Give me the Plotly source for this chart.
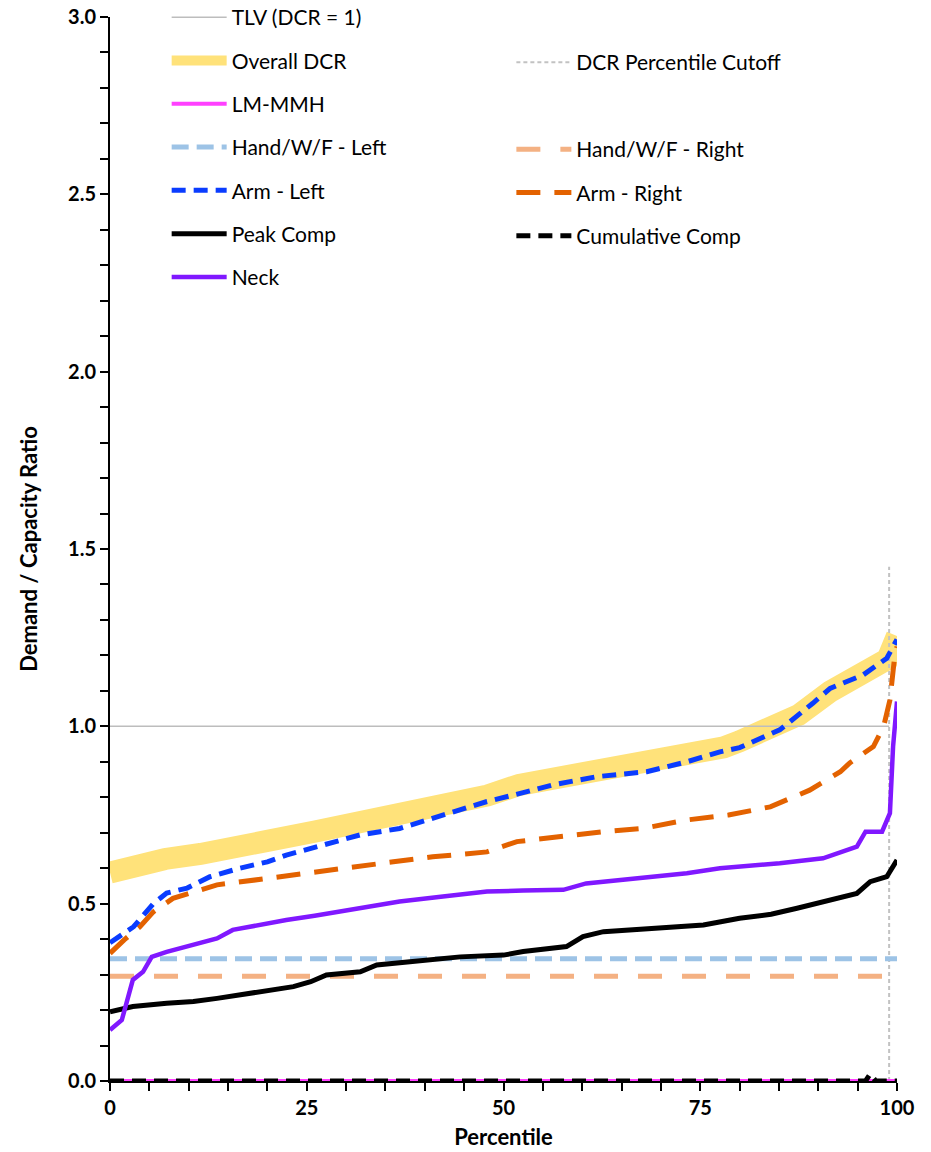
import plotly.graph_objects as go

# percentile curves
overall_x = [0, 3, 7, 11.5, 15.5, 20, 26, 33, 40, 48, 52, 59, 66, 73, 78, 80, 85, 87.5, 91.5, 95, 97.8, 98.8, 100]
overall_y = [0.588, 0.607, 0.626, 0.64, 0.651, 0.677, 0.703, 0.731, 0.762, 0.805, 0.835, 0.861, 0.889, 0.913,
             0.941, 0.958, 1.004, 1.032, 1.098, 1.145, 1.178, 1.19, 1.255]

arm_left_x = [0, 3, 5.5, 7.2, 9.8, 12.7, 16.5, 20, 22.4, 26.3, 31.8, 36.8, 42.3, 47.9, 52.5, 56.3, 61.8, 68.2,
              73.3, 77.5, 80, 85.1, 89.3, 91.5, 95.7, 98.7, 100]
arm_left_y = [0.39, 0.435, 0.50, 0.53, 0.544, 0.576, 0.60, 0.618, 0.637, 0.66, 0.694, 0.712, 0.75, 0.788, 0.813,
              0.835, 0.858, 0.872, 0.90, 0.928, 0.94, 0.99, 1.065, 1.107, 1.145, 1.192, 1.245]

arm_right_x = [0, 1.8, 3.8, 5.5, 8, 10.2, 13.6, 19.9, 26, 30.5, 36, 41, 47.9, 51.7, 57.2, 62.7, 67.7, 73.3, 78.6,
               83.9, 88.9, 92.8, 94, 97, 98.3, 99.1, 99.7, 100]
arm_right_y = [0.36, 0.398, 0.435, 0.477, 0.515, 0.53, 0.553, 0.571, 0.59, 0.604, 0.618, 0.632, 0.646, 0.675, 0.689,
               0.703, 0.712, 0.736, 0.75, 0.773, 0.82, 0.872, 0.897, 0.943, 0.999, 1.074, 1.196, 1.225]

neck_x = [0, 1.5, 2.1, 2.9, 4.2, 5.3, 7.2, 11.4, 13.6, 15.6, 19.9, 22.4, 26, 31.8, 36.8, 42.3, 47.9, 52.5, 57.6,
          60.5, 66.9, 73.3, 77.5, 80, 85.1, 90.6, 94.9, 96, 98.1, 99.1, 99.5, 100]
neck_y = [0.144, 0.172, 0.22, 0.285, 0.308, 0.35, 0.364, 0.388, 0.402, 0.426, 0.445, 0.454, 0.466, 0.487, 0.506,
          0.52, 0.534, 0.537, 0.539, 0.557, 0.571, 0.586, 0.60, 0.604, 0.614, 0.628, 0.661, 0.703, 0.703, 0.755,
          0.943, 1.07]

peak_x = [0, 2.9, 7.2, 10.6, 13.6, 16.5, 19.9, 23.3, 25.5, 27.5, 31.8, 33.9, 38.1, 44.5, 50, 52.5, 58, 60.1, 62.7,
          69, 75.4, 80, 84, 87.3, 91.5, 94.9, 96.6, 98.7, 100]
peak_y = [0.195, 0.21, 0.219, 0.224, 0.233, 0.242, 0.252, 0.266, 0.28, 0.299, 0.308, 0.327, 0.336, 0.35, 0.355,
          0.365, 0.379, 0.407, 0.421, 0.43, 0.44, 0.459, 0.47, 0.487, 0.51, 0.529, 0.562, 0.576, 0.623]

cumul_x = [0, 96, 96.6, 97.3, 100]
cumul_y = [0, 0, 0.02, 0, 0]

lm_mmh_x = [0, 100]
lm_mmh_y = [0, 0]

hand_x = [0, 100]
hand_left_y = [0.345, 0.345]
hand_right_y = [0.295, 0.295]

tlv_x = [0, 99]
tlv_y = [1, 1]

cutoff_x = [99, 99]
cutoff_y = [0, 1.45]

FONT = "Lato"

fig = go.Figure()

def add_line(x, y, name, color, width, dash="solid", legend="legend", rank=1):
    fig.add_trace(go.Scatter(x=x, y=y, name=name, mode="lines",
                             line=dict(color=color, width=width, dash=dash),
                             legend=legend, legendgroup=name, legendrank=rank,
                             hoverinfo="skip"))

# draw order (bottom to top)
add_line(overall_x, overall_y, "Overall DCR", "#FFE27A", 22, rank=2)
add_line(tlv_x, tlv_y, "TLV (DCR = 1)", "#BDBDBD", 1.5, rank=1)
add_line(cutoff_x, cutoff_y, "DCR Percentile Cutoff", "#C2C2C2", 2, "4px,3px", legend="legend2")
add_line(hand_x, hand_left_y, "Hand/W/F - Left", "#9DC3E6", 5, "17px,8px", rank=4)
add_line(hand_x, hand_right_y, "Hand/W/F - Right", "#F4B183", 5, "24px,20px", legend="legend3", rank=1)
add_line(peak_x, peak_y, "Peak Comp", "black", 5, rank=6)
add_line(neck_x, neck_y, "Neck", "#8018FF", 4.5, rank=7)
add_line(arm_right_x, arm_right_y, "Arm - Right", "#E36200", 5, "24px,14px", legend="legend3", rank=2)
add_line(arm_left_x, arm_left_y, "Arm - Left", "#0A3CFF", 5, "14px,8px", rank=5)
add_line(lm_mmh_x, lm_mmh_y, "LM-MMH", "#FF40FF", 4, rank=3)
add_line(cumul_x, cumul_y, "Cumulative Comp", "black", 5, "14px,8px", legend="legend3", rank=3)

legend_font = dict(family=FONT, size=21, color="black")
legend_common = dict(font=legend_font, bgcolor="rgba(0,0,0,0)", borderwidth=0,
                     tracegroupgap=13, itemwidth=55, xanchor="left", yanchor="top",
                     itemclick=False, itemdoubleclick=False)

fig.update_layout(
    width=931, height=1152,
    margin=dict(l=110, r=34, t=17, b=71, autoexpand=False),
    plot_bgcolor="white", paper_bgcolor="white",
    font=dict(family=FONT, color="black"),
    legend=dict(x=0.072, y=1.0188, **legend_common),
    legend2=dict(x=0.51, y=0.9765, **legend_common),
    legend3=dict(x=0.51, y=0.8947, **legend_common),
)

fig.update_xaxes(
    range=[0, 100], dtick=25, showgrid=False, zeroline=False, automargin=False,
    showline=True, linecolor="black", linewidth=2,
    ticks="outside", ticklen=8, tickwidth=1.5, tickcolor="black",
    minor=dict(dtick=5, ticks="outside", ticklen=8, tickwidth=1.5, tickcolor="black", showgrid=False),
    tickfont=dict(family=FONT, size=20, color="black", weight="bold"),
    title=dict(text="<b>Percentile</b>", font=dict(family=FONT, size=22, color="black"), standoff=12),
)
fig.update_yaxes(
    range=[0, 3], dtick=0.5, tickformat=".1f", showgrid=False, zeroline=False, automargin=False,
    showline=True, linecolor="black", linewidth=2, ticklabeloverflow="allow",
    ticks="outside", ticklen=8, tickwidth=1.5, tickcolor="black",
    minor=dict(dtick=0.1, ticks="outside", ticklen=8, tickwidth=1.5, tickcolor="black", showgrid=False),
    tickfont=dict(family=FONT, size=20, color="black", weight="bold"),
    title=dict(text="<b>Demand / Capacity Ratio</b>", font=dict(family=FONT, size=22, color="black"), standoff=24),
)

# drop the browser's default 8px body margin so the figure sits at the page corner
fig.write_html("out.html", config={"displayModeBar": False},
               post_script="document.body.style.margin = '0px';")
